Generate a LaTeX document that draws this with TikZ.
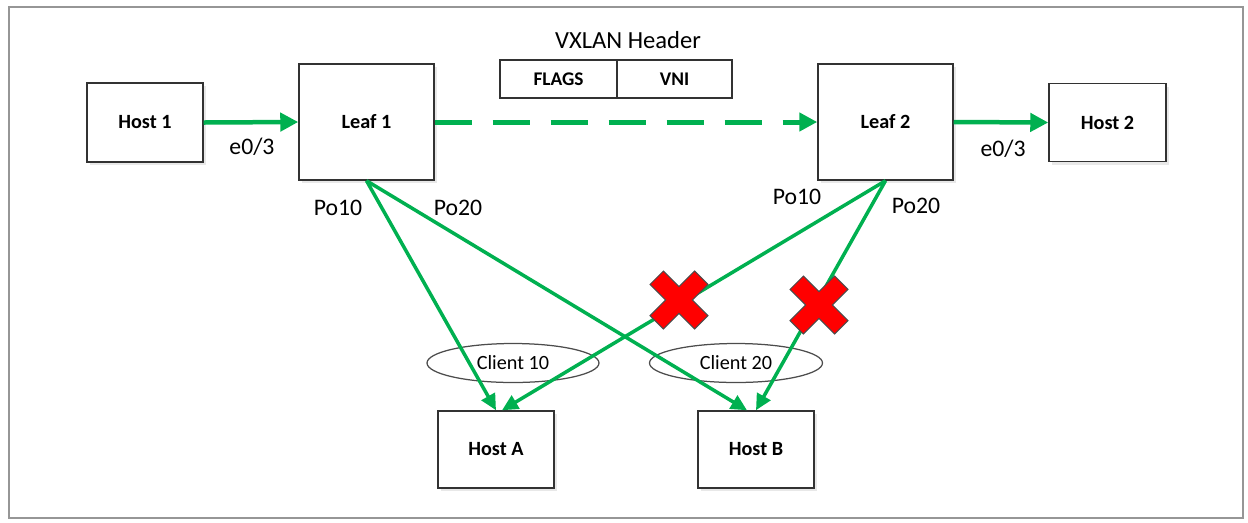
\documentclass[tikz,border=0pt]{standalone}
\usepackage{fontspec}
\setmainfont{Carlito}
\usetikzlibrary{arrows.meta,shapes.geometric,shadows}
\definecolor{lgreen}{RGB}{0,176,80}
\definecolor{framegray}{RGB}{150,150,150}
\definecolor{boxline}{RGB}{50,50,50}
\definecolor{xred}{RGB}{255,0,0}
\tikzset{
  devbox/.style={draw=boxline, line width=0.03cm, fill=white, font=\fontsize{11.5}{13}\selectfont\bfseries,
    drop shadow={shadow xshift=0.06cm, shadow yshift=-0.06cm, opacity=0.18, fill=gray}},
  hdrbox/.style={draw=boxline, line width=0.03cm, fill=white, font=\fontsize{11}{13}\selectfont\bfseries,
    minimum height=0.76cm, inner sep=0pt},
  clientell/.style={draw=black!70, line width=0.025cm, ellipse, minimum width=3.44cm, minimum height=0.78cm,
    inner sep=0pt, font=\fontsize{11.5}{13}\selectfont},
  portlbl/.style={font=\fontsize{13.5}{15}\selectfont, inner sep=0pt},
  link/.style={draw=lgreen, line width=0.09cm, -{Triangle[length=0.36cm,width=0.36cm]}},
  diag/.style={draw=lgreen, line width=0.07cm, -{Triangle[length=0.32cm,width=0.3cm]}},
  xmark/.style={fill=xred, draw=black!70, line width=0.02cm}
}
\begin{document}
\begin{tikzpicture}[x=0.02cm,y=-0.02cm]
\useasboundingbox (0,0) rectangle (1248,522);
% frame
\draw[framegray, line width=0.045cm] (9,7) rectangle (1243,518);

% devices
\node[devbox, minimum width=2.32cm, minimum height=1.58cm] (h1) at (145,122.5) {Host 1};
\node[devbox, minimum width=2.7cm, minimum height=2.32cm] (l1) at (366.5,122) {Leaf 1};
\node[devbox, minimum width=2.7cm, minimum height=2.32cm] (l2) at (885.5,122) {Leaf 2};
\node[devbox, minimum width=2.34cm, minimum height=1.56cm] (h2) at (1107.5,122.5) {Host 2};
\node[devbox, minimum width=2.32cm, minimum height=1.54cm] (ha) at (496,449.5) {Host A};
\node[devbox, minimum width=2.32cm, minimum height=1.54cm] (hb) at (756,449.5) {Host B};

% VXLAN header
\node[font=\fontsize{14}{16}\selectfont, inner sep=0pt] (vxt) at (628,40) {VXLAN Header};
\node[hdrbox, minimum width=2.34cm] (flags) at (558.5,79) {FLAGS};
\node[hdrbox, minimum width=2.3cm] (vni) at (674.5,79) {VNI};

% client ellipses
\node[clientell] (c10) at (513,363) {Client 10};
\node[clientell, minimum width=3.46cm] (c20) at (736,363) {Client 20};

% horizontal links
\draw[link] (h1.east) -- (l1.west);
\draw[link] (l2.east) -- (h2.west);
\draw[link, dash pattern=on 0.74cm off 0.42cm, line width=0.1cm] (l1.east) -- (l2.west);

% diagonal links
\draw[diag] (l1.south) -- (ha.north);
\draw[diag] (l1.south) -- ([xshift=-0.18cm]hb.north);
\draw[diag] (l2.south) -- ([xshift=0.12cm]ha.north);
\draw[diag] (l2.south) -- (hb.north);

% port labels
\node[portlbl] (e1) at (252,147) {e0/3};
\node[portlbl] (e2) at (1003,149) {e0/3};
\node[portlbl] (p10a) at (338,208) {Po10};
\node[portlbl] (p20a) at (458,208) {Po20};
\node[portlbl] (p10b) at (797,197) {Po10};
\node[portlbl] (p20b) at (916,206) {Po20};

% red crosses
\foreach \cx/\cy in {679/300, 819/305}{
  \begin{scope}[shift={(\cx,\cy)}, rotate=45]
    \draw[xmark] (9.5,31.5) -- (9.5,9.5) -- (31.5,9.5) -- (31.5,-9.5) -- (9.5,-9.5) -- (9.5,-31.5)
      -- (-9.5,-31.5) -- (-9.5,-9.5) -- (-31.5,-9.5) -- (-31.5,9.5) -- (-9.5,9.5) -- (-9.5,31.5) -- cycle;
  \end{scope}
}
\end{tikzpicture}
\end{document}
